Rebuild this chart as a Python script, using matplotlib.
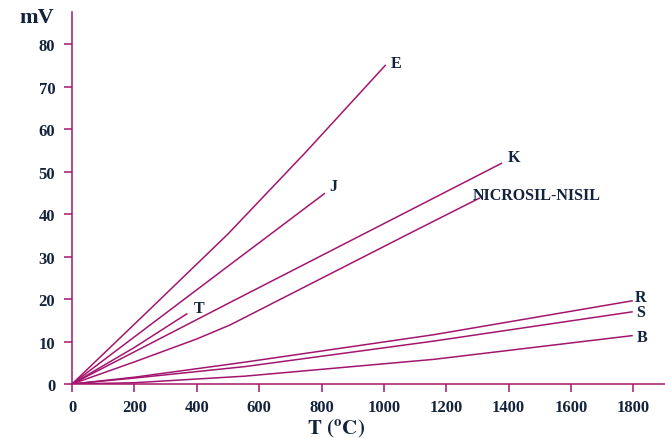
"""
Thermocouple EMF vs temperature (types E, J, T, K, N, R, S, B).
"""
import matplotlib
matplotlib.use("Agg")
import matplotlib.pyplot as plt

# values (deg C -> mV)
e_t = [0, 250, 500, 750, 1006]
e_mv = [0, 17.6, 35.3, 54.6, 75.1]
j_t = [0, 507, 811]
j_mv = [0, 28.1, 44.9]
t_t = [0, 200, 370]
t_mv = [0, 8.6, 16.6]
k_t = [0, 507, 1084, 1379]
k_mv = [0, 19.2, 40.9, 52.0]
n_t = [0, 200, 400, 507, 1084, 1308]
n_mv = [0, 5.2, 10.6, 13.9, 35.5, 43.8]
r_t = [0, 200, 555, 1160, 1798]
r_mv = [0, 1.6, 5.15, 11.6, 19.6]
s_t = [0, 200, 555, 1160, 1798]
s_mv = [0, 1.4, 4.1, 10.1, 17.0]
b_t = [0, 200, 555, 1160, 1798]
b_mv = [0, 0.3, 1.85, 5.8, 11.4]

x_ticks = [0, 200, 400, 600, 800, 1000, 1200, 1400, 1600, 1800]
y_ticks = [0, 10, 20, 30, 40, 50, 60, 70, 80]

LINE = "#a3166e"
TEXT = "#14233c"

plt.rcParams["font.family"] = ["Liberation Serif", "DejaVu Serif"]
plt.rcParams["font.weight"] = "bold"
plt.rcParams["mathtext.fontset"] = "stix"

fig = plt.figure(figsize=(6.65, 4.39), dpi=100)
ax = fig.add_axes([0.1083, 0.123, 0.892, 0.847])

for xs, ys in [(e_t, e_mv), (j_t, j_mv), (t_t, t_mv), (k_t, k_mv),
               (n_t, n_mv), (r_t, r_mv), (s_t, s_mv), (b_t, b_mv)]:
    ax.plot(xs, ys, color=LINE, lw=1.1, solid_capstyle="butt")

ax.set_xlim(0, 1902)
ax.set_ylim(0, 87.5)
ax.set_xticks(x_ticks)
ax.set_yticks(y_ticks)
ax.tick_params(colors=LINE, labelcolor=TEXT, labelsize=12, length=6, width=1.1)
ax.tick_params(axis="y", pad=6)
ax.tick_params(axis="x", pad=5)
for lab in ax.get_xticklabels() + ax.get_yticklabels():
    lab.set_fontweight("bold")

for side in ["top", "right"]:
    ax.spines[side].set_visible(False)
for side in ["left", "bottom"]:
    ax.spines[side].set_color(LINE)
    ax.spines[side].set_linewidth(1.1)

# curve labels
lab_kw = dict(color=TEXT, fontsize=11.5, fontweight="bold", va="center")
ax.text(1022, 75.5, "E", ha="left", **lab_kw)
ax.text(825, 46.6, "J", ha="left", **lab_kw)
ax.text(390, 17.9, "T", ha="left", **lab_kw)
ax.text(1396, 53.4, "K", ha="left", **lab_kw)
ax.text(1286, 44.5, "NICROSIL-NISIL", ha="left", **lab_kw)
ax.text(1805, 20.4, "R", ha="left", **lab_kw)
ax.text(1808, 16.9, "S", ha="left", **lab_kw)
ax.text(1810, 11.1, "B", ha="left", **lab_kw)

fig.text(37 / 665, 1 - 18 / 439, "mV", color=TEXT, fontsize=16,
         fontweight="bold", ha="center", va="center")
fig.text(336 / 665, 1 - 429 / 439, r"$\mathbf{T\ (^{o}C)}$", color=TEXT,
         fontsize=15, ha="center", va="center")

fig.savefig("out.png", dpi=100, facecolor="white")
plt.close(fig)
